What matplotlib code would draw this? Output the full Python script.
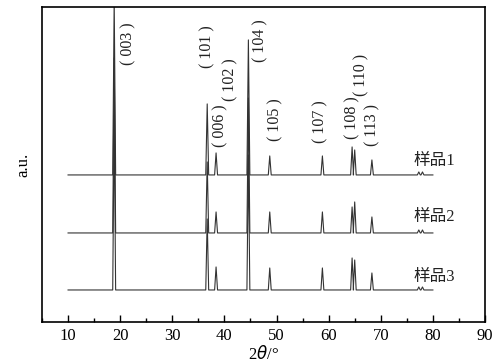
import matplotlib
matplotlib.use("Agg")
import matplotlib.pyplot as plt
from matplotlib.ticker import MultipleLocator

# ===================== DATA =====================
# peak positions (2theta, deg)
peak_pos = [18.85, 36.7, 38.4, 44.6, 48.7, 58.8, 64.5, 65.0, 68.3, 77.3, 78.0]

# peak heights above each baseline (arbitrary units)
heights_1 = [175, 71, 22, 135, 19, 19, 28, 25, 15, 3, 3]
heights_2 = [175, 71, 21, 135, 21, 21, 26, 31, 16, 3, 3]
heights_3 = [175, 71, 23, 135, 22, 22, 32, 30, 17, 3, 3]

baselines = [147, 89, 32]
sample_names = ["样品1", "样品2", "样品3"]
label_y = [161, 105, 45]

scan_start, scan_end = 10, 80

# hkl labels: (text, x, y)
hkl_text = ["( 003 )", "( 101 )", "( 006 )", "( 102 )", "( 104 )", "( 105 )",
            "( 107 )", "( 108 )", "( 110 )", "( 113 )"]
hkl_x = [21.5, 36.7, 39.2, 41.2, 46.9, 49.8, 58.5, 64.6, 66.2, 68.4]
hkl_y = [278, 275, 196, 242, 281, 202, 200, 204, 247, 197]


def pattern(base, heights, half=0.28):
    xs = [scan_start]
    ys = [base]
    for p, h in zip(peak_pos, heights):
        xs += [p - half, p, p + half]
        ys += [base, base + h, base]
    xs.append(scan_end)
    ys.append(base)
    return xs, ys


# ===================== FIGURE =====================
fig = plt.figure(figsize=(5.0, 3.63), dpi=100)
ax = fig.add_axes([0.084, 0.113, 0.886, 0.868])

serif = ["Liberation Serif", "Noto Sans CJK SC"]

for base, hts, name, ly in zip(baselines, [heights_1, heights_2, heights_3],
                               sample_names, label_y):
    xs, ys = pattern(base, hts)
    ax.plot(xs, ys, color="#333333", linewidth=0.8)
    ax.text(76.2, ly, name, fontsize=12, family=serif,
            ha="left", va="center", color="#222222")

for t, x, y in zip(hkl_text, hkl_x, hkl_y):
    ax.text(x, y, t, rotation=90, fontsize=11.5, family=serif,
            ha="center", va="center", color="#222222")

ax.set_xlim(5, 90)
ax.set_ylim(0, 315)

ax.xaxis.set_major_locator(MultipleLocator(10))
ax.xaxis.set_minor_locator(MultipleLocator(5))
ax.set_xticks(range(10, 91, 10))
ax.tick_params(axis="x", which="major", direction="in", length=5, width=1.0,
               top=False, labelsize=12, pad=4)
ax.tick_params(axis="x", which="minor", direction="in", length=3, width=1.0,
               top=False)
ax.set_yticks([])

for lab in ax.get_xticklabels():
    lab.set_family(serif)

for s in ax.spines.values():
    s.set_linewidth(1.2)

ax.set_xlabel(r"2$\it{\theta}$/°", fontsize=12, family=serif, labelpad=1)
ax.set_ylabel("a.u.", fontsize=12, family=serif, labelpad=8)

fig.savefig("out.png", dpi=100)
